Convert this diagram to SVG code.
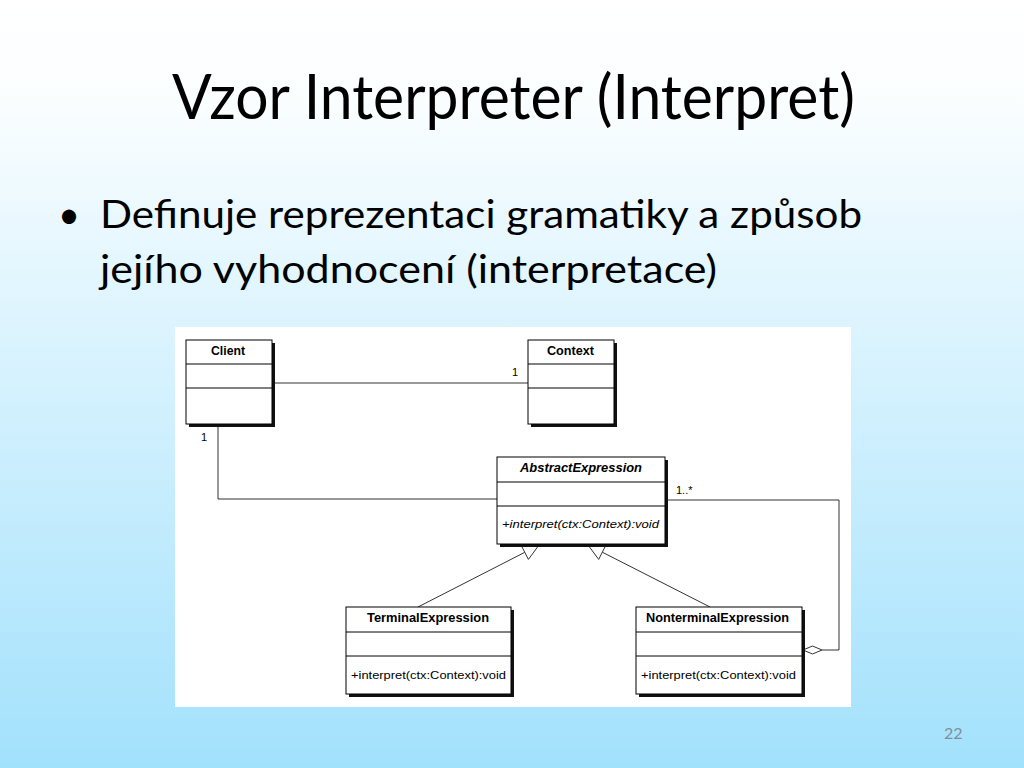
<svg xmlns="http://www.w3.org/2000/svg" width="1024" height="768" viewBox="0 0 1024 768">
<defs>
<linearGradient id="bg" x1="0" y1="0" x2="0" y2="1">
<stop offset="0" stop-color="#ffffff"/>
<stop offset="0.12" stop-color="#fbfeff"/>
<stop offset="1" stop-color="#a2e1fc"/>
</linearGradient>
<style>
.slide{font-family:Lato,"Open Sans","Liberation Sans",sans-serif;fill:#000}
.cls{fill:#fff;stroke:#000;stroke-width:1}
.sh{fill:#111}
.div{stroke:#000;stroke-width:1}
.nm{font-family:"Liberation Sans",Arial,sans-serif;font-size:12.5px;font-weight:bold;fill:#000}
.op{font-family:"Liberation Sans",Arial,sans-serif;font-size:11.5px;fill:#000}
.lbl{font-family:"Liberation Sans",Arial,sans-serif;font-size:11px;fill:#000}
.ln{fill:none;stroke:#333;stroke-width:1}
.tri{fill:#fff;stroke:#333;stroke-width:1}
</style>
</defs>
<rect x="0" y="0" width="1024" height="768" fill="url(#bg)"/>
<text class="slide" x="172" y="119" font-size="62" textLength="683" lengthAdjust="spacingAndGlyphs">Vzor Interpreter (Interpret)</text>
<text class="slide" x="58" y="228" font-size="38">•</text>
<text class="slide" x="100" y="228" font-size="38" textLength="762" lengthAdjust="spacingAndGlyphs">Definuje reprezentaci gramatiky a způsob</text>
<text class="slide" x="100" y="283" font-size="38" textLength="617" lengthAdjust="spacingAndGlyphs">jejího vyhodnocení (interpretace)</text>
<text x="944" y="739" font-family="Lato,'Liberation Sans',sans-serif" font-size="16" fill="#7d8f9c">22</text>

<rect x="175" y="327" width="676" height="380" fill="#ffffff"/>

<g id="connectors">
<polyline class="ln" points="273,383 528,383"/>
<polyline class="ln" points="218,427 218,499 497,499"/>
<polyline class="ln" points="665,500 839,500 839,650 822,650"/>
<polygon class="tri" points="822,650 812.5,646 803,650 812.5,654"/>
<line class="ln" x1="418" y1="607" x2="524.8" y2="552.3"/>
<polygon class="tri" points="539,545 528.4,559.4 521.1,545.2"/>
<line class="ln" x1="710" y1="607" x2="602.3" y2="552.2"/>
<polygon class="tri" points="588,545 605.9,545.1 598.7,559.4"/>
<text class="lbl" x="512" y="376">1</text>
<text class="lbl" x="201" y="441">1</text>
<text class="lbl" x="676" y="494">1..*</text>
</g>

<g id="client">
<rect class="sh" x="189" y="343" width="86" height="84"/>
<rect class="cls" x="186" y="340" width="86" height="84"/>
<line class="div" x1="186" y1="364" x2="272" y2="364"/>
<line class="div" x1="186" y1="388" x2="272" y2="388"/>
<text class="nm" x="211" y="355" textLength="34" lengthAdjust="spacingAndGlyphs">Client</text>
</g>

<g id="context">
<rect class="sh" x="531" y="343" width="86" height="84"/>
<rect class="cls" x="528" y="340" width="86" height="84"/>
<line class="div" x1="528" y1="364" x2="614" y2="364"/>
<line class="div" x1="528" y1="388" x2="614" y2="388"/>
<text class="nm" x="547" y="355" textLength="47" lengthAdjust="spacingAndGlyphs">Context</text>
</g>

<g id="abstract">
<rect class="sh" x="500" y="460" width="168" height="87"/>
<rect class="cls" x="497" y="457" width="168" height="87"/>
<line class="div" x1="497" y1="482" x2="665" y2="482"/>
<line class="div" x1="497" y1="506" x2="665" y2="506"/>
<text class="nm" x="520" y="472" font-style="italic" textLength="122" lengthAdjust="spacingAndGlyphs">AbstractExpression</text>
<text class="op" x="502" y="528" font-style="italic" textLength="157" lengthAdjust="spacingAndGlyphs">+interpret(ctx:Context):void</text>
</g>

<g id="terminal">
<rect class="sh" x="349" y="610" width="165" height="87"/>
<rect class="cls" x="346" y="607" width="165" height="87"/>
<line class="div" x1="346" y1="632" x2="511" y2="632"/>
<line class="div" x1="346" y1="656" x2="511" y2="656"/>
<text class="nm" x="367" y="622" textLength="122" lengthAdjust="spacingAndGlyphs">TerminalExpression</text>
<text class="op" x="351" y="679" textLength="155" lengthAdjust="spacingAndGlyphs">+interpret(ctx:Context):void</text>
</g>

<g id="nonterminal">
<rect class="sh" x="639" y="610" width="166" height="87"/>
<rect class="cls" x="636" y="607" width="166" height="87"/>
<line class="div" x1="636" y1="632" x2="802" y2="632"/>
<line class="div" x1="636" y1="656" x2="802" y2="656"/>
<text class="nm" x="646" y="622" textLength="143" lengthAdjust="spacingAndGlyphs">NonterminalExpression</text>
<text class="op" x="641" y="679" textLength="155" lengthAdjust="spacingAndGlyphs">+interpret(ctx:Context):void</text>
</g>
</svg>
